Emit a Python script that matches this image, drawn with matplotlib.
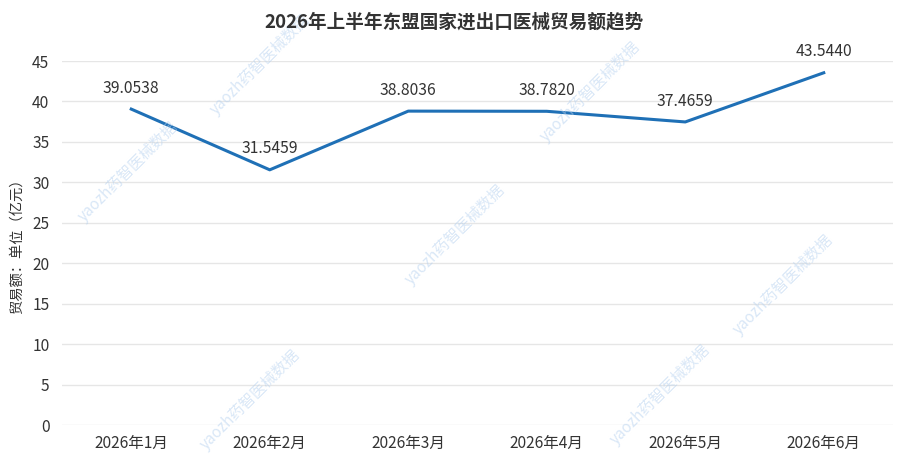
import matplotlib
matplotlib.use('Agg')
import matplotlib.pyplot as plt

plt.rcParams['font.family'] = ['Noto Sans CJK SC', 'DejaVu Sans']

# Data
months = ['2026年1月', '2026年2月', '2026年3月', '2026年4月', '2026年5月', '2026年6月']
trade_values = [39.0538, 31.5459, 38.8036, 38.7820, 37.4659, 43.5440]
y_ticks = [0, 5, 10, 15, 20, 25, 30, 35, 40, 45]

# Watermark positions (figure pixel coords from top-left)
wm_text = 'yaozh药智医械数据'
wm_pos = [(128, 172), (260, 65), (590, 92), (455, 235), (783, 285),
          (660, 395), (250, 400)]

fig = plt.figure(figsize=(9.08, 4.63), dpi=100)
ax = fig.add_axes([62 / 908, 1 - 425 / 463, (893 - 62) / 908, (425 - 61) / 463])

x = list(range(len(months)))
ax.plot(x, trade_values, color='#1f70b6', linewidth=2.2, zorder=3)

for xi, v in zip(x, trade_values):
    ax.annotate(f'{v:.4f}', (xi, v), xytext=(0, 15), textcoords='offset points',
                ha='center', va='center', fontsize=11.3, color='#333333')

ax.set_xlim(-0.5, len(months) - 0.5)
ax.set_ylim(0, 45)
ax.set_yticks(y_ticks)
ax.set_xticks(x)
ax.set_xticklabels(months)
ax.tick_params(axis='both', length=0, labelsize=11.2, colors='#333333')
ax.tick_params(axis='x', pad=7)
ax.tick_params(axis='y', pad=9)
ax.grid(axis='y', color='#e6e6e6', linewidth=1)
ax.set_axisbelow(True)
for s in ax.spines.values():
    s.set_visible(False)

ax.set_ylabel('贸易额：单位（亿元）', fontsize=10.3, color='#333333', labelpad=6)
fig.text(0.5, 1 - 22 / 463, '2026年上半年东盟国家进出口医械贸易额趋势',
         ha='center', va='center', fontsize=13.4, fontweight='bold', color='#333333')

for px, py in wm_pos:
    fig.text(px / 908, 1 - py / 463, wm_text, rotation=45, ha='center', va='center',
             fontsize=11, color='#b4d0ef', alpha=0.5, zorder=0)

fig.savefig('out.png', dpi=100)
